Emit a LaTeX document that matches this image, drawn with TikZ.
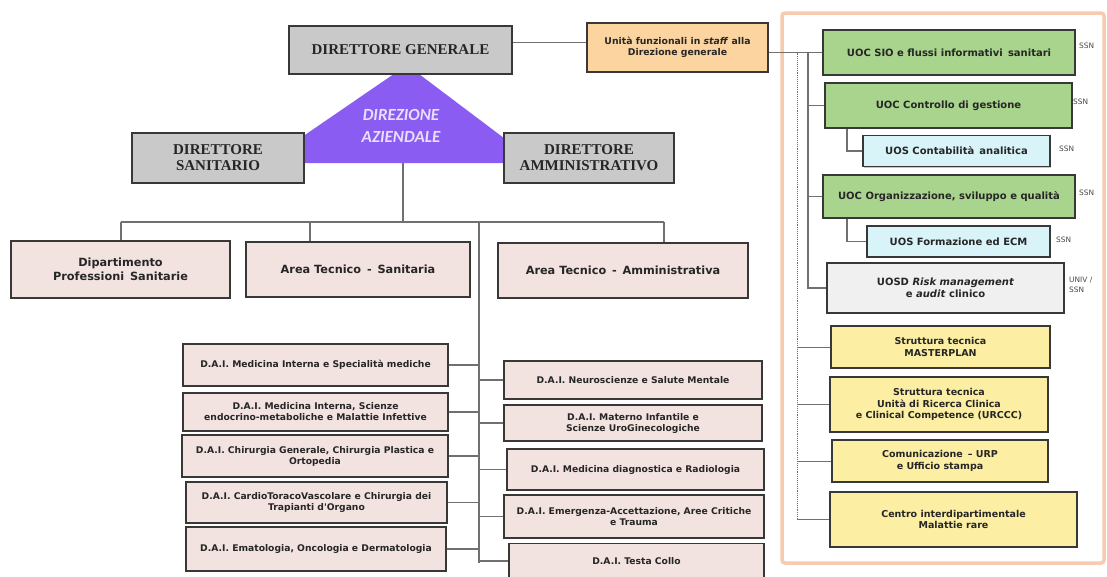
\documentclass[tikz,border=0pt]{standalone}
\usepackage{fontspec}
\setmainfont{Liberation Serif}
\newfontfamily\dvs{DejaVu Sans}
\newfontfamily\carl{Carlito}
\usetikzlibrary{calc,shadows}
\definecolor{boxline}{HTML}{383838}
\definecolor{linegray}{HTML}{707070}
\definecolor{txt}{HTML}{262626}
\definecolor{grayfill}{HTML}{C9C9C9}
\definecolor{pinkfill}{HTML}{F2E3E1}
\definecolor{stafffill}{HTML}{FBD4A0}
\definecolor{greenfill}{HTML}{A9D48D}
\definecolor{cyanfill}{HTML}{D9F4F9}
\definecolor{uosdfill}{HTML}{F0F0F0}
\definecolor{yellowfill}{HTML}{FCEFA4}
\definecolor{purple}{HTML}{8A5CF2}
\definecolor{lavtext}{HTML}{E9DEFF}
\definecolor{salmon}{HTML}{F7CBB0}
\tikzset{
  wh/.style 2 args={minimum width=#1pt, minimum height=#2pt},
  conn/.style={draw=linegray, line width=1.1pt},
  base/.style={draw=boxline, line width=1.9pt, inner sep=1pt, align=center, text=txt,
    drop shadow={shadow xshift=1.2pt, shadow yshift=-1.2pt, fill=black, opacity=0.22}},
  grayb/.style={base, fill=grayfill, font=\bfseries\fontsize{15}{16}\selectfont},
  pinkb/.style={base, fill=pinkfill, font=\dvs\bfseries\fontsize{11.3}{13.5}\selectfont},
  daib/.style={base, fill=pinkfill, font=\dvs\bfseries\fontsize{9.2}{11}\selectfont},
  staffb/.style={base, fill=stafffill, font=\dvs\bfseries\fontsize{9.3}{11}\selectfont},
  greenb/.style={base, fill=greenfill, font=\dvs\bfseries\fontsize{10}{12}\selectfont},
  cyanb/.style={base, fill=cyanfill, font=\dvs\bfseries\fontsize{10}{12}\selectfont},
  uosdb/.style={base, fill=uosdfill, font=\dvs\bfseries\fontsize{10}{12}\selectfont},
  yellowb/.style={base, fill=yellowfill, font=\dvs\bfseries\fontsize{9.5}{11.5}\selectfont},
  tag/.style={anchor=west, inner sep=0pt, align=left, text=txt!85, font=\dvs\fontsize{7.4}{10}\selectfont},
}
\begin{document}
\begin{tikzpicture}[x=1pt,y=-1pt]
\useasboundingbox (0,0) rectangle (1107,576);
\fill[white] (0,0) rectangle (1107,576);

% right panel frame
\draw[salmon, line width=3.5pt, rounded corners=3pt] (782,13) rectangle (1104,563);

% direzione aziendale triangle
\fill[purple] (264,163) -- (407,65) -- (537,163) -- cycle;
\node[font=\carl\bfseries\itshape\fontsize{17}{22}\selectfont, text=lavtext, align=center] (dirAz) at (401,126) {DIREZIONE\\AZIENDALE};

% top level boxes
\node[grayb, wh={223}{48}] (DG) at (400.5,50) {DIRETTORE GENERALE};
\node[grayb, wh={172}{50}] (DS) at (218,158) {DIRETTORE\\SANITARIO};
\node[grayb, wh={170}{50}] (DA) at (589,158) {DIRETTORE\\AMMINISTRATIVO};

% second level
\node[pinkb, wh={219}{57}] (dip) at (120.5,269.5) {Dipartimento\\Professioni\, Sanitarie};
\node[pinkb, wh={224}{55}] (ats) at (358,269.5) {Area Tecnico\, -\, Sanitaria};
\node[pinkb, wh={250}{55}] (ata) at (623,270.5) {Area Tecnico\, -\, Amministrativa};

% DAI left
\node[daib, wh={265}{42}] (l1) at (315.5,365) {D.A.I. Medicina Interna e Specialità mediche};
\node[daib, wh={265}{38}] (l2) at (315.5,412) {D.A.I. Medicina Interna, Scienze\\endocrino-metaboliche e Malattie Infettive};
\node[daib, wh={266}{42}] (l3) at (315,456) {D.A.I. Chirurgia Generale, Chirurgia Plastica e\\Ortopedia};
\node[daib, wh={261}{41}] (l4) at (316.5,502.5) {D.A.I. CardioToracoVascolare e Chirurgia dei\\Trapianti d'Organo};
\node[daib, wh={260}{44}] (l5) at (316,549) {D.A.I. Ematologia, Oncologia e Dermatologia};

% DAI right
\node[daib, wh={258}{38}] (r1) at (633,380) {D.A.I. Neuroscienze e Salute Mentale};
\node[daib, wh={258}{36}] (r2) at (633,423) {D.A.I. Materno Infantile e\\Scienze UroGinecologiche};
\node[daib, wh={257}{41}] (r3) at (635.5,469.5) {D.A.I. Medicina diagnostica e Radiologia};
\node[daib, wh={260}{43}] (r4) at (634,516.5) {D.A.I. Emergenza-Accettazione, Aree Critiche\\e Trauma};
\node[daib, wh={255}{35}] (r5) at (636.5,561) {D.A.I. Testa Collo};

% staff
\node[staffb, wh={181}{49}] (staff) at (677.5,47.5) {Unità funzionali in \textit{staff} alla\\Direzione generale};

% right panel boxes
\node[greenb, wh={252}{45}] (sio) at (949,52.5) {UOC SIO e flussi informativi\, sanitari};
\node[greenb, wh={247}{45}] (ctrl) at (948.5,105.5) {UOC Controllo di gestione};
\node[cyanb, wh={187}{31}] (cont) at (956.5,151) {UOS Contabilità\, analitica};
\node[greenb, wh={252}{43}] (org) at (949,196.5) {UOC Organizzazione, sviluppo e qualità};
\node[cyanb, wh={183}{31}] (form) at (958.5,241.5) {UOS Formazione ed ECM};
\node[uosdb, wh={237}{50}] (uosd) at (945.5,288) {UOSD \textit{Risk management}\\e \textit{audit} clinico};
\node[yellowb, wh={219}{42}] (mp) at (940.5,347) {Struttura tecnica\\MASTERPLAN};
\node[yellowb, wh={218}{55}] (ur) at (939,404.5) {Struttura tecnica\\Unità di Ricerca Clinica\\e Clinical Competence (URCCC)};
\node[yellowb, wh={216}{42}] (com) at (940,461) {Comunicazione\, – URP\\e Ufficio stampa};
\node[yellowb, wh={247}{55}] (cen) at (953.5,519.5) {Centro interdipartimentale\\Malattie rare};

% tags
\node[tag] (t1) at (1079,46) {SSN};
\node[tag] (t2) at (1073,102) {SSN};
\node[tag] (t3) at (1059,149) {SSN};
\node[tag] (t4) at (1079,193) {SSN};
\node[tag] (t5) at (1056,240) {SSN};
\node[tag] (t6) at (1069,285) {UNIV /\\SSN};

% connectors, top
\coordinate (tb) at (403,163);
\coordinate (busL) at (121,222);
\coordinate (busR) at (664,222);
\coordinate (cts) at (310,222);
\coordinate (sp) at (479,222);
\coordinate (spb) at (479,563);
\draw[conn] (tb) -- (tb |- busL);
\draw[conn] (busL) -- (busR);
\draw[conn] (busL) -- (busL |- dip.north);
\draw[conn] (cts) -- (cts |- ats.north);
\draw[conn] (busR) -- (busR |- ata.north);
\draw[conn] (sp) -- (spb);
\foreach \n in {l1,l2,l3,l4,l5} \draw[conn] (\n.east) -- (\n.east -| sp);
\foreach \n in {r1,r2,r3,r4,r5} \draw[conn] (\n.west) -- (\n.west -| sp);

% connectors, staff
\coordinate (sw) at ($(staff.north west)!0.41!(staff.south west)$);
\draw[conn] (sw) -- (sw -| DG.east);
\draw[conn] (sio.west) -- (sio.west -| staff.east);
\coordinate (vs) at (808,52.5);
\coordinate (vd) at (797,52.5);
\coordinate (sx) at (847,0);
\draw[conn] (vs) |- (uosd.west);
\draw[conn] (ctrl.west -| vs) -- (ctrl.west);
\draw[conn] (org.west -| vs) -- (org.west);
\draw[conn, line width=0.9pt, densely dotted] (vd) -- (vd |- cen.west);
\foreach \n in {mp,ur,com,cen} \draw[conn, line width=0.9pt] (\n.west -| vd) -- (\n.west);
\draw[conn] (ctrl.south -| sx) |- (cont.west);
\draw[conn] (org.south -| sx) |- (form.west);
\end{tikzpicture}
\end{document}
